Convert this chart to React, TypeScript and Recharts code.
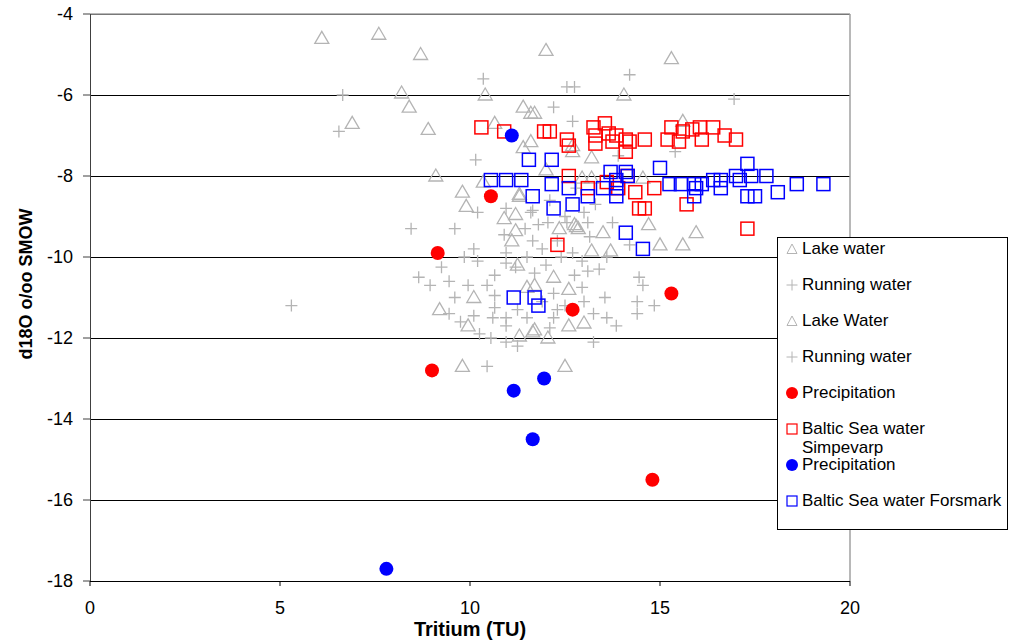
import type React from 'react';
import {
  ScatterChart,
  Scatter,
  XAxis,
  YAxis,
  CartesianGrid,
  ReferenceLine,
  Legend,
} from 'recharts';

type Pt = [number, number];

// Tritium (TU) vs d18O for each sample group
const lakeWater: Pt[] = [
  [6.1, -4.6], [7.6, -4.5], [8.7, -5.0], [8.2, -5.95], [8.4, -6.3], [6.9, -6.7],
  [8.9, -6.85], [9.1, -8.0], [9.8, -8.4], [9.9, -8.75], [9.2, -11.3], [9.8, -12.7],
  [10.1, -11.0], [9.95, -11.7], [10.35, -8.15], [10.4, -6.0], [10.65, -6.7], [10.9, -9.05],
  [11.2, -8.95], [11.1, -9.6], [11.3, -8.45], [11.2, -9.35], [11.25, -10.2], [11.3, -11.95],
  [11.5, -10.75], [11.65, -11.85], [11.7, -10.7], [11.7, -11.8], [12.0, -4.9], [11.4, -6.3],
  [11.6, -6.45], [11.7, -6.45], [11.6, -7.15], [11.4, -7.3], [11.3, -8.5], [12.0, -7.85],
];

const lakeWater2: Pt[] = [
  [12.05, -12.0], [12.2, -10.5], [12.35, -9.3], [12.5, -12.7], [12.6, -10.8], [12.6, -11.7],
  [12.7, -7.25], [12.75, -9.2], [12.8, -9.25], [12.85, -9.3], [12.95, -8.05], [13.0, -11.63],
  [13.2, -7.55], [13.2, -9.85], [13.2, -8.05], [13.5, -9.4], [13.7, -9.85], [14.05, -6.0],
  [14.55, -8.05], [14.7, -9.2], [15.0, -9.7], [15.3, -5.1], [15.6, -6.65], [15.6, -9.7],
  [15.95, -9.4], [12.7, -7.4],
];

const runningWater: Pt[] = [
  [5.3, -11.2], [6.65, -6.0], [6.55, -6.9], [8.45, -9.3], [8.65, -10.5], [8.95, -10.7],
  [9.25, -10.25], [9.45, -10.6], [9.45, -11.4], [9.6, -11.0], [9.6, -9.3], [9.75, -11.6],
  [9.85, -10.0], [9.95, -10.7], [10.1, -9.8], [10.1, -11.45], [10.2, -10.1], [10.15, -7.6],
  [10.2, -8.9], [10.25, -11.9], [10.35, -5.6], [10.45, -12.7], [10.45, -10.7], [10.55, -12.0],
  [10.6, -11.5], [10.65, -10.45], [10.65, -10.95], [10.65, -11.25], [10.9, -9.45], [10.95, -8.8],
  [10.95, -9.9], [10.95, -10.15], [10.95, -11.5], [10.95, -11.7], [10.95, -12.1], [11.2, -10.25],
  [11.25, -11.3], [11.25, -12.2], [11.45, -9.3], [11.5, -11.5], [11.5, -10.0], [11.6, -8.9],
];

const runningWater2: Pt[] = [
  [11.65, -8.85], [11.65, -9.6], [11.7, -10.4], [11.8, -9.2], [11.9, -9.8], [11.9, -11.1],
  [12.0, -10.2], [12.05, -9.15], [12.1, -8.6], [12.1, -11.75], [12.2, -6.3], [12.2, -11.5],
  [12.2, -10.9], [12.3, -11.3], [12.3, -9.6], [12.4, -10.0], [12.5, -9.0], [12.5, -11.2],
  [12.55, -5.8], [12.55, -9.15], [12.7, -6.65], [12.75, -5.8], [12.75, -10.45], [12.7, -9.9],
  [12.8, -8.3], [12.95, -10.1], [12.95, -10.75], [13.0, -8.9], [13.0, -11.1], [13.1, -9.15],
  [13.1, -10.35], [13.15, -9.5], [13.25, -11.4], [13.25, -12.1], [13.3, -8.7], [13.4, -10.3],
  [13.55, -11.0], [13.6, -10.0], [13.6, -11.5], [13.75, -9.15], [13.85, -11.7], [14.2, -5.5],
  [14.2, -9.7], [14.4, -11.1], [14.4, -11.4], [14.45, -10.5], [14.55, -10.7], [14.85, -11.2],
  [15.4, -7.4], [16.95, -6.1], [13.9, -7.5],
];

const precipSimpevarp: Pt[] = [
  [9.0, -12.8], [9.15, -9.9], [10.55, -8.5], [12.7, -11.3], [14.8, -15.5], [15.3, -10.9],
];

const balticSimpevarp: Pt[] = [
  [10.3, -6.8], [10.9, -6.9], [11.95, -6.9], [12.1, -6.9], [12.3, -9.7], [12.55, -7.1],
  [12.6, -7.25], [12.6, -8.0], [13.1, -8.3], [13.25, -6.8], [13.3, -7.0], [13.3, -7.2],
  [13.55, -6.7], [13.6, -8.15], [13.65, -6.95], [13.75, -7.15], [13.85, -7.0], [13.9, -8.3],
  [14.1, -7.4], [14.1, -7.1], [14.15, -8.0], [14.2, -7.15], [14.35, -8.4], [14.45, -8.8],
  [14.6, -7.1], [14.6, -8.8], [14.85, -8.3], [15.2, -7.1], [15.3, -6.8], [15.5, -7.15],
  [15.6, -6.9], [15.7, -8.7], [15.85, -6.85], [16.05, -6.8], [16.1, -7.1], [16.4, -6.8],
  [16.7, -7.0], [17.0, -7.1], [17.3, -9.3],
];

const precipForsmark: Pt[] = [
  [7.8, -17.7], [11.1, -7.0], [11.15, -13.3], [11.65, -14.5], [11.95, -13.0],
];

const balticForsmark: Pt[] = [
  [10.55, -8.1], [10.95, -8.1], [11.35, -8.1], [11.15, -11.0], [11.55, -7.6], [11.65, -8.5],
  [11.7, -11.0], [11.8, -11.2], [12.15, -7.6], [12.15, -8.2], [12.2, -8.8], [12.6, -8.3],
  [12.7, -8.7], [13.1, -8.5], [13.5, -8.3], [13.7, -7.9], [13.85, -8.1], [13.85, -8.3],
  [13.85, -8.5], [14.1, -7.9], [14.15, -8.0], [14.1, -9.4], [14.55, -9.8], [15.0, -7.8],
  [15.25, -8.2], [15.55, -8.2], [15.9, -8.2], [15.95, -8.3], [15.9, -8.5], [16.1, -8.2],
  [16.4, -8.1], [16.6, -8.3], [16.6, -8.1], [17.0, -8.0], [17.1, -8.1], [17.3, -7.7],
  [17.4, -8.0], [17.3, -8.5], [17.5, -8.5], [17.8, -8.0], [18.1, -8.4], [18.6, -8.2],
  [19.3, -8.2],
];

const xTicks = [0, 5, 10, 15, 20];
const yTicks = [-18, -16, -14, -12, -10, -8, -6, -4];

const GREY = '#b4b4b4';
const RED = '#ff0000';
const BLUE = '#0000ff';
const FONT = '"Liberation Sans", Arial, sans-serif';

const toRows = (pts: Pt[]) => pts.map(([x, y]) => ({ x, y }));

type ShapeProps = { cx?: number; cy?: number };

const TriangleMark = ({ cx = 0, cy = 0 }: ShapeProps) => (
  <path
    d={`M${cx},${cy - 7} L${cx + 7},${cy + 5} L${cx - 7},${cy + 5} Z`}
    fill="none"
    stroke={GREY}
    strokeWidth={1.3}
  />
);

const PlusMark = ({ cx = 0, cy = 0 }: ShapeProps) => (
  <path
    d={`M${cx - 6},${cy} H${cx + 6} M${cx},${cy - 6} V${cy + 6}`}
    stroke={GREY}
    strokeWidth={1.3}
  />
);

const squareMark = (color: string) => ({ cx = 0, cy = 0 }: ShapeProps) => (
  <rect x={cx - 6.5} y={cy - 6.5} width={13} height={13} fill="none" stroke={color} strokeWidth={1.5} />
);

const dotMark = (color: string) => ({ cx = 0, cy = 0 }: ShapeProps) => (
  <circle cx={cx} cy={cy} r={7} fill={color} />
);

type Kind = 'triangle' | 'plus' | 'dot' | 'square';

const legendItems: { label: React.ReactNode; kind: Kind; color: string }[] = [
  { label: 'Lake water', kind: 'triangle', color: GREY },
  { label: 'Running water', kind: 'plus', color: GREY },
  { label: 'Lake Water', kind: 'triangle', color: GREY },
  { label: 'Running water', kind: 'plus', color: GREY },
  { label: 'Precipitation', kind: 'dot', color: RED },
  { label: <>Baltic Sea water<br />Simpevarp</>, kind: 'square', color: RED },
  { label: 'Precipitation', kind: 'dot', color: BLUE },
  { label: 'Baltic Sea water Forsmark', kind: 'square', color: BLUE },
];

const LegendIcon = ({ kind, color }: { kind: Kind; color: string }) => (
  <svg width={12} height={12} style={{ display: 'block' }}>
    {kind === 'triangle' && <path d="M6,1 L11,10.5 L1,10.5 Z" fill="none" stroke={color} strokeWidth={1} />}
    {kind === 'plus' && <path d="M0.5,6 H11.5 M6,0.5 V11.5" stroke={color} strokeWidth={1} />}
    {kind === 'dot' && <circle cx={6} cy={6} r={6} fill={color} />}
    {kind === 'square' && <rect x={1} y={1} width={10} height={10} fill="none" stroke={color} strokeWidth={1.2} />}
  </svg>
);

const LegendBox = () => (
  <div
    style={{
      position: 'relative',
      width: 229,
      height: 291,
      border: '1px solid #000',
      background: '#fff',
      fontFamily: FONT,
      fontSize: 17,
      color: '#000',
    }}
  >
    {legendItems.map((item, i) => (
      <div
        key={i}
        style={{ position: 'absolute', left: 8, top: 1 + 36 * i, display: 'flex', lineHeight: '19px', whiteSpace: 'nowrap' }}
      >
        <div style={{ paddingTop: 3.5, width: 16 }}>
          <LegendIcon kind={item.kind} color={item.color} />
        </div>
        <div>{item.label}</div>
      </div>
    ))}
  </div>
);

export default function App() {
  return (
    <div style={{ width: 1011, height: 643, background: '#fff' }}>
      <style>{'body{margin:0}'}</style>
      <ScatterChart
        width={1011}
        height={643}
        margin={{ top: 14, right: 161, bottom: 0, left: 0 }}
        style={{ fontFamily: FONT }}
      >
        <CartesianGrid vertical={false} stroke="#000" strokeWidth={1} shapeRendering="crispEdges" />
        <XAxis
          type="number"
          dataKey="x"
          domain={[0, 20]}
          ticks={xTicks}
          height={62}
          tickSize={5}
          tickMargin={15}
          stroke="#000"
          axisLine={{ shapeRendering: 'crispEdges' }}
          tick={{ fontSize: 18, fill: '#000' }}
          label={({ viewBox }: any) => (
            <text
              x={viewBox.x + viewBox.width / 2}
              y={636}
              textAnchor="middle"
              fontSize={20}
              fontWeight="bold"
              fill="#000"
            >
              Tritium (TU)
            </text>
          )}
        />
        <YAxis
          type="number"
          dataKey="y"
          domain={[-18, -4]}
          ticks={yTicks}
          width={90}
          tickSize={7}
          tickMargin={10}
          stroke="#404040"
          axisLine={{ shapeRendering: 'crispEdges' }}
          tick={{ fontSize: 18, fill: '#000' }}
          label={() => (
            <text
              x={32}
              y={284}
              transform="rotate(-90 32 284)"
              textAnchor="middle"
              fontSize={18}
              fontWeight="bold"
              fill="#000"
            >
              d18O o/oo SMOW
            </text>
          )}
        />
        <ReferenceLine y={-4} stroke="#a0a0a0" strokeWidth={1.5} />
        <ReferenceLine x={20} stroke="#a0a0a0" strokeWidth={1.5} />
        <Legend
          layout="horizontal"
          verticalAlign="middle"
          align="center"
          content={() => <LegendBox />}
          wrapperStyle={{ left: 777, top: 237, width: 231, height: 293 }}
        />
        <Scatter name="Lake water" data={toRows(lakeWater)} shape={TriangleMark} isAnimationActive={false} />
        <Scatter name="Running water" data={toRows(runningWater)} shape={PlusMark} isAnimationActive={false} />
        <Scatter name="Lake Water" data={toRows(lakeWater2)} shape={TriangleMark} isAnimationActive={false} />
        <Scatter name="Running water" data={toRows(runningWater2)} shape={PlusMark} isAnimationActive={false} />
        <Scatter name="Precipitation" data={toRows(precipSimpevarp)} shape={dotMark(RED)} isAnimationActive={false} />
        <Scatter name="Baltic Sea water Simpevarp" data={toRows(balticSimpevarp)} shape={squareMark(RED)} isAnimationActive={false} />
        <Scatter name="Precipitation" data={toRows(precipForsmark)} shape={dotMark(BLUE)} isAnimationActive={false} />
        <Scatter name="Baltic Sea water Forsmark" data={toRows(balticForsmark)} shape={squareMark(BLUE)} isAnimationActive={false} />
      </ScatterChart>
    </div>
  );
}
